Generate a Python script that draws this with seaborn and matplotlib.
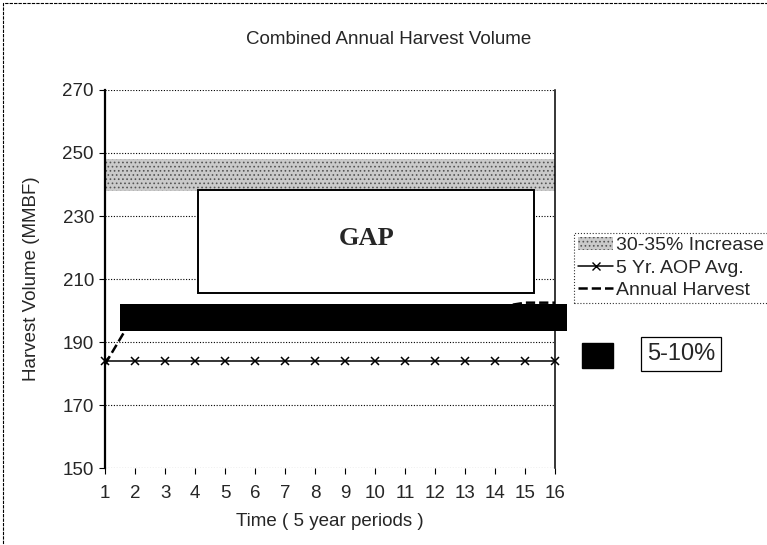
"""Combined Annual Harvest Volume - recreated chart"""

import numpy as np
import pandas as pd
import seaborn as sns
import matplotlib
matplotlib.use("Agg")
import matplotlib.pyplot as plt
from matplotlib.patches import Patch, Rectangle
from matplotlib.lines import Line2D

sns.set_style("white")
plt.rcParams['font.family'] = ['Liberation Sans', 'DejaVu Sans']
plt.rcParams['font.size'] = 13
plt.rcParams['hatch.linewidth'] = 0.7
plt.rcParams['hatch.color'] = '#555555'

# --- data -------------------------------------------------------------
periods = list(range(1, 17))
aop_avg = [184] * 16
annual_harvest = [183, 199, 199, 199, 199, 199, 199, 199,
                  199, 199, 199, 199, 199, 201, 202.5, 202.5]

increase_x = [1, 16]
increase_low = [238, 238]
increase_high = [248, 248]

gap_x = [4.1, 15.3]
gap_low = 205.5
gap_high = 238.3

band_x = [1.5, 16.4]
band_low = [193.5, 193.5]
band_high = [202, 202]

yticks = [150, 170, 190, 210, 230, 250, 270]

df = pd.DataFrame({'period': periods, 'aop': aop_avg, 'harvest': annual_harvest})

# --- figure -----------------------------------------------------------
fig = plt.figure(figsize=(7.67, 5.45), dpi=100)
ax = fig.add_axes([0.137, 0.141, 0.587, 0.694])

# grey stippled band (30-35% increase)
ax.fill_between(increase_x, increase_low, increase_high, facecolor='#cacaca',
                edgecolor='#555555', hatch='....', linewidth=0, zorder=2)

# GAP box
ax.add_patch(Rectangle((gap_x[0], gap_low), gap_x[1] - gap_x[0], gap_high - gap_low,
                       facecolor='white', edgecolor='black', linewidth=1.4, zorder=3))
ax.text(sum(gap_x) / 2, 223, 'GAP', family=['Liberation Serif', 'DejaVu Serif'],
        fontsize=19, fontweight='bold', ha='center', va='center', zorder=4)

# annual harvest (dashed) and 5-10% black band
sns.lineplot(data=df, x='period', y='harvest', ax=ax, color='black')
harvest_line = ax.lines[-1]
harvest_line.set_linestyle('--')
harvest_line.set_linewidth(1.8)
harvest_line.set_zorder(4)

ax.fill_between(band_x, band_low, band_high, color='black', linewidth=0,
                zorder=5, clip_on=False)

# 5 yr AOP average
sns.lineplot(data=df, x='period', y='aop', ax=ax, color='black', marker='x',
             markersize=6, markeredgewidth=1.1, markeredgecolor='black')
aop_line = ax.lines[-1]
aop_line.set_linestyle('-')
aop_line.set_linewidth(1.1)
aop_line.set_zorder(6)
aop_line.set_clip_on(False)

ax.set_xlim(1, 16)
ax.set_ylim(150, 270)
ax.set_xticks(periods)
ax.set_yticks(yticks)
ax.grid(axis='y', color='black', linestyle=(0, (1, 1.5)), linewidth=0.8, zorder=1)
ax.set_axisbelow(True)

for side in ['top', 'bottom']:
    ax.spines[side].set_visible(False)
ax.spines['left'].set_color('black')
ax.spines['left'].set_linewidth(1.6)
ax.spines['right'].set_color('black')
ax.spines['right'].set_linewidth(1.1)
ax.spines['left'].set_zorder(7)

ax.tick_params(axis='both', direction='out', length=4, width=0.8, color='black',
               labelsize=13.5, pad=4, bottom=True, left=True)
ax.tick_params(axis='x', pad=8)

ax.set_xlabel('Time ( 5 year periods )', fontsize=13.5, labelpad=8)
ax.set_ylabel('Harvest Volume (MMBF)', fontsize=13.5)
ax.yaxis.set_label_coords(-0.145, 0.5)

fig.text(0.507, 0.928, 'Combined Annual Harvest Volume', ha='center', va='center',
         fontsize=13.5)

# legend
handles = [
    Patch(facecolor='#cacaca', edgecolor='#555555', hatch='....', linewidth=0),
    Line2D([], [], color='black', linewidth=1.1, marker='x', markersize=6),
    Line2D([], [], color='black', linestyle='--', linewidth=1.8),
]
labels = ['30-35% Increase', '5 Yr. AOP Avg.', 'Annual Harvest']
leg = fig.legend(handles, labels, loc='upper left', bbox_to_anchor=(0.749, 0.573),
                 frameon=True, fancybox=False, shadow=False, fontsize=14,
                 handlelength=1.8, handletextpad=0.15, borderpad=0.2,
                 labelspacing=0.25, borderaxespad=0)
leg.get_frame().set_edgecolor('black')
leg.get_frame().set_linestyle(':')
leg.get_frame().set_linewidth(0.8)

# 5-10% key
fig.patches.append(Rectangle((0.759, 0.325), 0.040, 0.046, transform=fig.transFigure,
                             facecolor='black', edgecolor='black'))
fig.text(0.888, 0.350, '5-10%', ha='center', va='center', fontsize=17,
         bbox=dict(boxstyle='square,pad=0.25', facecolor='white', edgecolor='black',
                   linewidth=0.9))

# outer border of the chart area
fig.patches.append(Rectangle((0.004, -0.2), 1.5, 1.195, transform=fig.transFigure,
                             facecolor='none', edgecolor='black', linewidth=0.8,
                             linestyle=(0, (3, 1))))

fig.savefig('out.png', dpi=100)
